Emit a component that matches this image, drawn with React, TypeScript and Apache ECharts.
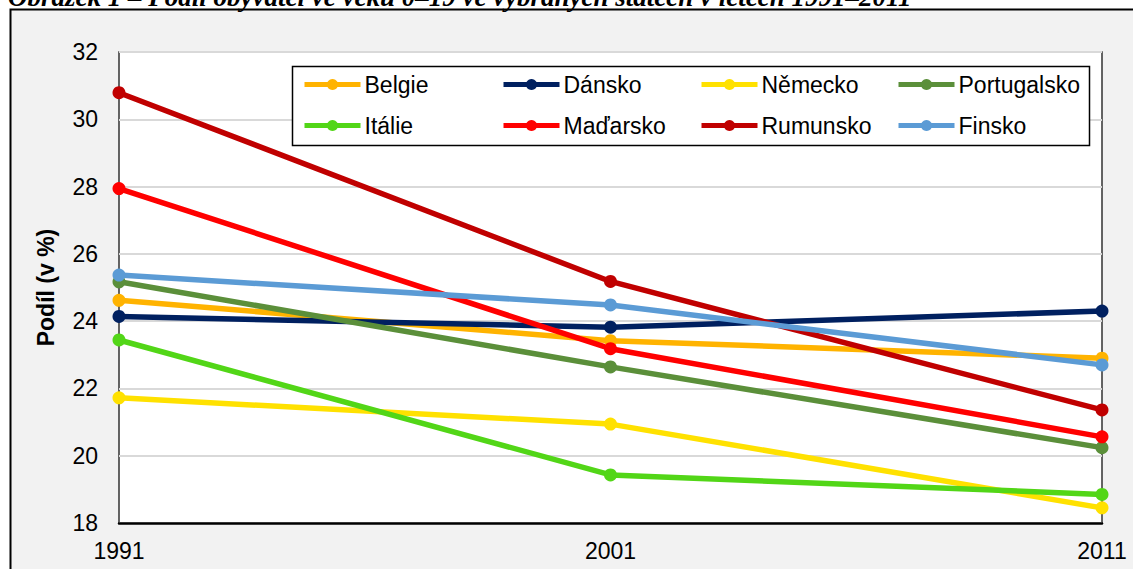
import React, { useEffect, useRef } from "react";
import * as echarts from "echarts";

const years = ["1991", "2001", "2011"];
const seriesNames = ["Belgie", "Dánsko", "Německo", "Portugalsko", "Itálie", "Maďarsko", "Rumunsko", "Finsko"];
const belgie = [24.62, 23.42, 22.9];
const dansko = [24.14, 23.82, 24.3];
const nemecko = [21.72, 20.94, 18.45];
const portugalsko = [25.17, 22.64, 20.24];
const italie = [23.44, 19.43, 18.85];
const madarsko = [27.94, 23.18, 20.56];
const rumunsko = [30.79, 25.18, 21.36];
const finsko = [25.37, 24.48, 22.7];
const seriesValues = [belgie, dansko, nemecko, portugalsko, italie, madarsko, rumunsko, finsko];
const seriesColors = ["#FFB300", "#002060", "#FFE100", "#5B8F3A", "#52D617", "#FF0000", "#C00000", "#5B9BD5"];
const yTicks = { min: 18, max: 32, interval: 2 };
const titleText = "Obrázek 1 – Podíl obyvatel ve věku 0–19 ve vybraných státech v letech 1991–2011";
const yAxisTitle = "Podíl (v %)";

const FONT = "'Liberation Sans', Arial, sans-serif";

export default function App() {
  const ref = useRef<HTMLDivElement>(null);
  useEffect(() => {
    if (!ref.current) return;
    const chart = echarts.init(ref.current, undefined, { renderer: "svg" });
    const legendCols = [302, 501, 699, 896];
    const legendRows = [73, 114];
    const legends = seriesNames.map((name, i) => ({
      data: [name],
      left: legendCols[i % 4],
      top: legendRows[Math.floor(i / 4)],
      padding: 0,
      itemWidth: 56,
      itemHeight: 14,
      itemGap: 0,
      lineStyle: { width: 5 },
      textStyle: { fontSize: 23, color: "#000", fontFamily: FONT, padding: [0, 0, 0, -1] },
      z: 5,
    }));
    chart.setOption({
      animation: false,
      backgroundColor: "#fff",
      textStyle: { fontFamily: FONT },
      graphic: [
        {
          type: "rect",
          z: -10,
          shape: { x: 10.5, y: 9.5, width: 1140, height: 600 },
          style: { fill: "#f2f2f2", stroke: "#000", lineWidth: 2 },
        },
        {
          type: "text",
          z: 10,
          x: 8,
          y: 10,
          style: {
            text: titleText,
            font: "italic bold 27px 'Liberation Serif', 'Times New Roman', serif",
            fill: "#000",
            verticalAlign: "bottom",
          },
        },
        {
          type: "rect",
          z: 3,
          shape: { x: 292.5, y: 66.5, width: 797, height: 79 },
          style: { fill: "#fff", stroke: "#000", lineWidth: 1.5 },
        },
      ],
      legend: legends,
      grid: {
        left: 119,
        top: 52,
        right: 31,
        bottom: 46,
        show: true,
        backgroundColor: "#fff",
        borderColor: "#333",
        borderWidth: 1.5,
      },
      xAxis: {
        type: "category",
        data: years,
        boundaryGap: false,
        axisLine: { lineStyle: { color: "#000", width: 2.5 } },
        axisTick: { show: false },
        axisLabel: { fontSize: 23, color: "#000", margin: 16, fontFamily: FONT },
        splitLine: { show: false },
      },
      yAxis: {
        type: "value",
        min: yTicks.min,
        max: yTicks.max,
        interval: yTicks.interval,
        name: yAxisTitle,
        nameLocation: "middle",
        nameGap: 62,
        nameRotate: 90,
        nameTextStyle: { fontSize: 23, fontWeight: "bold", color: "#000", fontFamily: FONT },
        axisLine: { show: false },
        axisTick: { show: false },
        axisLabel: { fontSize: 23, color: "#000", margin: 21, fontFamily: FONT },
        splitLine: { lineStyle: { color: "#d9d9d9", width: 2 } },
      },
      series: seriesNames.map((name, i) => ({
        name,
        type: "line",
        data: seriesValues[i],
        symbol: "circle",
        symbolSize: 13,
        showSymbol: true,
        lineStyle: { width: 5.5, color: seriesColors[i] },
        itemStyle: { color: seriesColors[i] },
        emphasis: { disabled: true },
        z: 2,
      })),
    });
    return () => chart.dispose();
  }, []);
  return (
    <div
      ref={ref}
      style={{ position: "fixed", left: 0, top: 0, width: 1133, height: 569 }}
    />
  );
}
